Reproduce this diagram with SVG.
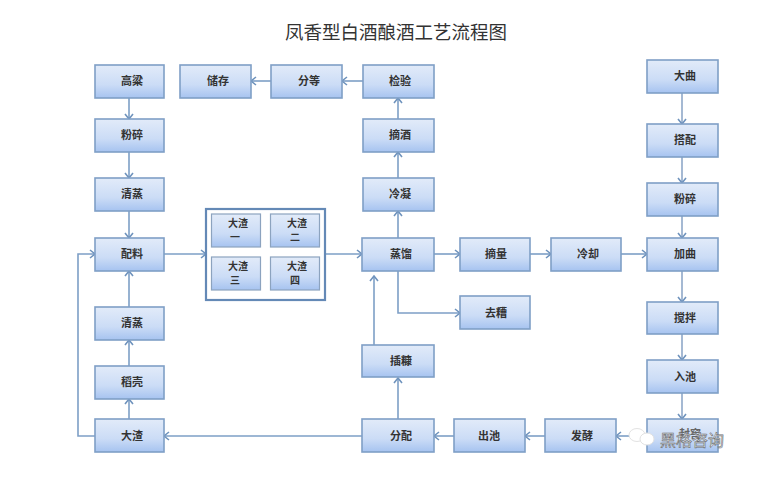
<svg xmlns="http://www.w3.org/2000/svg" width="769" height="480" viewBox="0 0 769 480">
<style>
text{font-family:"Noto Sans CJK SC","Noto Sans",sans-serif;text-anchor:middle;fill:#333}
.t{font-size:11px;font-weight:700}
.s{font-size:10px;font-weight:700}
.n{fill:url(#g);stroke:#7f9fc6;stroke-width:1.6}
.i{fill:url(#g);stroke:#8ca3bf;stroke-width:1.2}
.c{fill:none;stroke:#7d9fc6;stroke-width:1.6;marker-end:url(#a)}
.r{stroke:#a5b9d3;stroke-width:2}
</style>
<defs>
<linearGradient id="g" x1="0" y1="0" x2="0" y2="1"><stop offset="0" stop-color="#e2ebf9"/><stop offset=".6" stop-color="#cbdcf6"/><stop offset="1" stop-color="#a6c3f0"/></linearGradient>
<marker id="a" markerUnits="userSpaceOnUse" markerWidth="10" markerHeight="10" refX="8" refY="5" orient="auto"><path d="M3 1L8 5L3 9" fill="none" stroke="#6f93bd" stroke-width="1.6"/></marker>
</defs>
<rect width="769" height="480" fill="#fff"/>
<text id="title" x="396" y="39" font-size="18.500" style="fill:#333">凤香型白酒酿酒工艺流程图</text>
<g id="connectors">
<path class="c" d="M129 98V119"/><path class="c" d="M129 152V178"/><path class="c" d="M129 211V238"/>
<path class="c" d="M129 307V271"/><path class="c" d="M129 366V340"/><path class="c" d="M129 419V399"/>
<path class="c" d="M95 436H78V254H95"/>
<path class="c" d="M164 254H206"/>
<path class="c" d="M326 254H362"/>
<path class="c" d="M271 81H251"/><path class="c" d="M363 81H342"/>
<path class="c" d="M398 119V98"/><path class="c" d="M398 178V152"/><path class="c" d="M398 238V211"/>
<path class="c" d="M434 254H460"/><path class="c" d="M530 254H551"/><path class="c" d="M621 254H647"/>
<path class="c" d="M398 271V313H460"/>
<path class="c" d="M374 345V276"/>
<path class="c" d="M398 419V378"/>
<path class="c" d="M362 436H164"/><path class="c" d="M454 436H434"/><path class="c" d="M545 436H525"/><path class="c" d="M647 436H616"/>
<path class="c r" d="M682 93V124"/><path class="c r" d="M682 157V183"/><path class="c r" d="M682 216V238"/><path class="c r" d="M682 271V302"/><path class="c r" d="M682 334V360"/><path class="c r" d="M682 393V419"/>
</g>
<g id="n1"><rect class="n" x="95" y="65" width="69" height="33"/><text class="t" x="132" y="85">高粱</text></g>
<g id="n2"><rect class="n" x="95" y="119" width="69" height="33"/><text class="t" x="132" y="139">粉碎</text></g>
<g id="n3"><rect class="n" x="95" y="178" width="69" height="33"/><text class="t" x="132" y="198">清蒸</text></g>
<g id="n4"><rect class="n" x="95" y="238" width="69" height="33"/><text class="t" x="132" y="258">配料</text></g>
<g id="n5"><rect class="n" x="95" y="307" width="69" height="33"/><text class="t" x="132" y="327">清蒸</text></g>
<g id="n6"><rect class="n" x="95" y="366" width="69" height="33"/><text class="t" x="132" y="386">稻壳</text></g>
<g id="n7"><rect class="n" x="95" y="419" width="69" height="33"/><text class="t" x="132" y="440">大渣</text></g>
<g id="n8"><rect class="n" x="180" y="65" width="71" height="33"/><text class="t" x="218" y="85">储存</text></g>
<g id="n9"><rect class="n" x="271" y="65" width="71" height="33"/><text class="t" x="309" y="85">分等</text></g>
<g id="n10"><rect class="n" x="363" y="65" width="71" height="33"/><text class="t" x="400" y="85">检验</text></g>
<g id="n11"><rect class="n" x="363" y="119" width="71" height="33"/><text class="t" x="400" y="139">摘酒</text></g>
<g id="n12"><rect class="n" x="363" y="178" width="71" height="33"/><text class="t" x="400" y="198">冷凝</text></g>
<g id="n13"><rect class="n" x="362" y="238" width="72" height="33"/><text class="t" x="401" y="258">蒸馏</text></g>
<g id="n14"><rect class="n" x="460" y="238" width="70" height="33"/><text class="t" x="496" y="258">摘量</text></g>
<g id="n15"><rect class="n" x="551" y="238" width="70" height="33"/><text class="t" x="588" y="258">冷却</text></g>
<g id="n16"><rect class="n" x="647" y="238" width="71" height="33"/><text class="t" x="685" y="258">加曲</text></g>
<g id="n17"><rect class="n" x="460" y="296" width="70" height="33"/><text class="t" x="496" y="317">去糟</text></g>
<g id="n18"><rect class="n" x="362" y="345" width="72" height="32"/><text class="t" x="401" y="365">插糠</text></g>
<g id="n19"><rect class="n" x="362" y="419" width="72" height="33"/><text class="t" x="401" y="440">分配</text></g>
<g id="n20"><rect class="n" x="454" y="419" width="71" height="33"/><text class="t" x="489" y="440">出池</text></g>
<g id="n21"><rect class="n" x="545" y="419" width="71" height="33"/><text class="t" x="582" y="440">发酵</text></g>
<g id="n22"><rect class="n" x="647" y="60" width="71" height="33"/><text class="t" x="685" y="80">大曲</text></g>
<g id="n23"><rect class="n" x="647" y="124" width="71" height="33"/><text class="t" x="685" y="144">搭配</text></g>
<g id="n24"><rect class="n" x="647" y="183" width="71" height="33"/><text class="t" x="685" y="203">粉碎</text></g>
<g id="n25"><rect class="n" x="647" y="302" width="71" height="32"/><text class="t" x="685" y="322">搅拌</text></g>
<g id="n26"><rect class="n" x="647" y="360" width="71" height="33"/><text class="t" x="685" y="381">入池</text></g>
<g id="n27"><rect class="n" x="647" y="419" width="71" height="33"/><text class="t" x="690" y="438" style="fill:#666">封窖</text></g>
<g id="group"><rect x="206" y="209" width="119" height="91" fill="#fff" stroke="#6489b6" stroke-width="2.2"/>
<g id="g1"><rect class="i" x="211.500" y="214" width="49" height="33"/><text class="s" y="227"><tspan x="238">大渣</tspan><tspan x="235" dy="14">一</tspan></text></g>
<g id="g2"><rect class="i" x="270.500" y="214" width="49" height="33"/><text class="s" y="227"><tspan x="297">大渣</tspan><tspan x="295" dy="14">二</tspan></text></g>
<g id="g3"><rect class="i" x="211.500" y="257" width="49" height="33"/><text class="s" y="270"><tspan x="238">大渣</tspan><tspan x="235" dy="14">三</tspan></text></g>
<g id="g4"><rect class="i" x="270.500" y="257" width="49" height="33"/><text class="s" y="270"><tspan x="297">大渣</tspan><tspan x="295" dy="14">四</tspan></text></g>
</g>
<g id="watermark"><ellipse cx="637" cy="435" rx="8" ry="6.500" fill="#fff" stroke="#e2e2e2"/><ellipse cx="647" cy="439" rx="7" ry="6" fill="#fff" stroke="#e2e2e2"/>
<text x="692" y="446" font-size="16" style="fill:#eef2f8;stroke:#6d6d6d;stroke-width:.6">黑格咨询</text></g>
</svg>
